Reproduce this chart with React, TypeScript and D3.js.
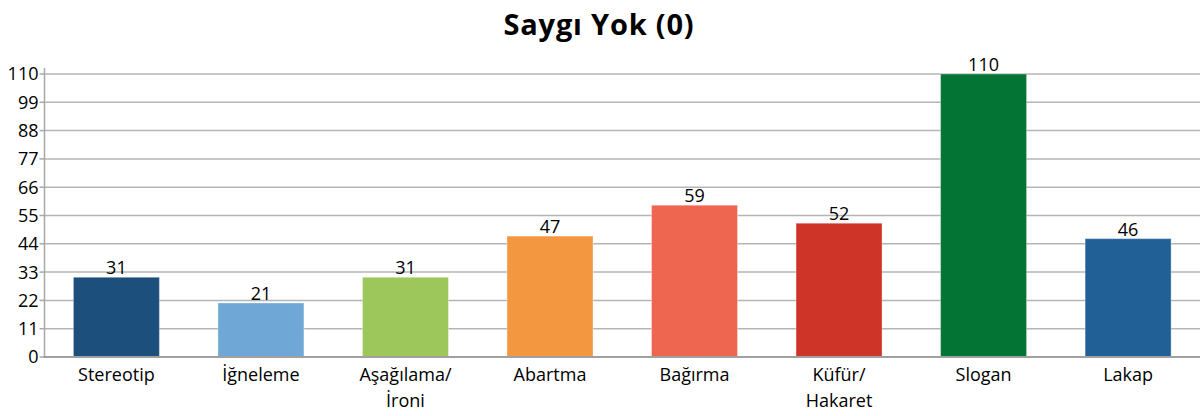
import React from "react";
import * as d3 from "d3";

const categories = ["Stereotip", "İğneleme", "Aşağılama/\nİroni", "Abartma", "Bağırma", "Küfür/\nHakaret", "Slogan", "Lakap"];
const values = [31, 21, 31, 47, 59, 52, 110, 46];
const colors = ["#1d4f7c", "#6fa8d6", "#9dc75a", "#f39741", "#ef6650", "#cf3428", "#037434", "#216096"];
const yTicks = [0, 11, 22, 33, 44, 55, 66, 77, 88, 99, 110];
const title = "Saygı Yok (0)";

const W = 1201, H = 416;
const left = 44.5, right = 1200, top = 74, bottom = 357;
const font = "'Open Sans', 'Noto Sans', sans-serif";

export default function App() {
  const x = d3.scaleBand<string>().domain(categories).range([left, right]).paddingInner(0.405).paddingOuter(0.2);
  const y = d3.scaleLinear().domain([0, 110]).range([bottom, top]);
  return (
    <svg width={W} height={H} style={{ position: "absolute", left: 0, top: 0, background: "#fff" }} fontFamily={font}>
      <text x={599} y={35} textAnchor="middle" fontSize={29} fontWeight="bold" fill="#000" letterSpacing={0.8}>{title}</text>
      {yTicks.map((t) => (
        <g key={t}>
          {t > 0 && <line x1={left} x2={right} y1={y(t)} y2={y(t)} stroke="#b5b5b5" strokeWidth={1.5} />}
          <line x1={left - 5} x2={left} y1={y(t)} y2={y(t)} stroke="#a8a8a8" strokeWidth={1.5} />
          <text x={left - 6} y={y(t)} dy="0.36em" textAnchor="end" fontSize={18} fill="#000">{t}</text>
        </g>
      ))}
      <line x1={left} x2={left} y1={top - 6} y2={bottom} stroke="#a8a8a8" strokeWidth={1.5} />
      {categories.map((c, i) => {
        const bx = x(c)!;
        const bw = x.bandwidth();
        const lines = c.split("\n");
        return (
          <g key={c}>
            <rect x={bx} y={y(values[i])} width={bw} height={bottom - y(values[i])} fill={colors[i]} stroke="rgba(255,255,255,0.35)" strokeWidth={1} />
            <text x={bx + bw / 2} y={y(values[i]) - 3} textAnchor="middle" fontSize={18} fill="#000">{values[i]}</text>
            {lines.map((l, j) => (
              <text key={j} x={bx + bw / 2} y={381 + j * 26} textAnchor="middle" fontSize={18} fill="#000">{l}</text>
            ))}
          </g>
        );
      })}
      <line x1={left - 1} x2={right} y1={bottom} y2={bottom} stroke="#a0a0a0" strokeWidth={2} />
    </svg>
  );
}
